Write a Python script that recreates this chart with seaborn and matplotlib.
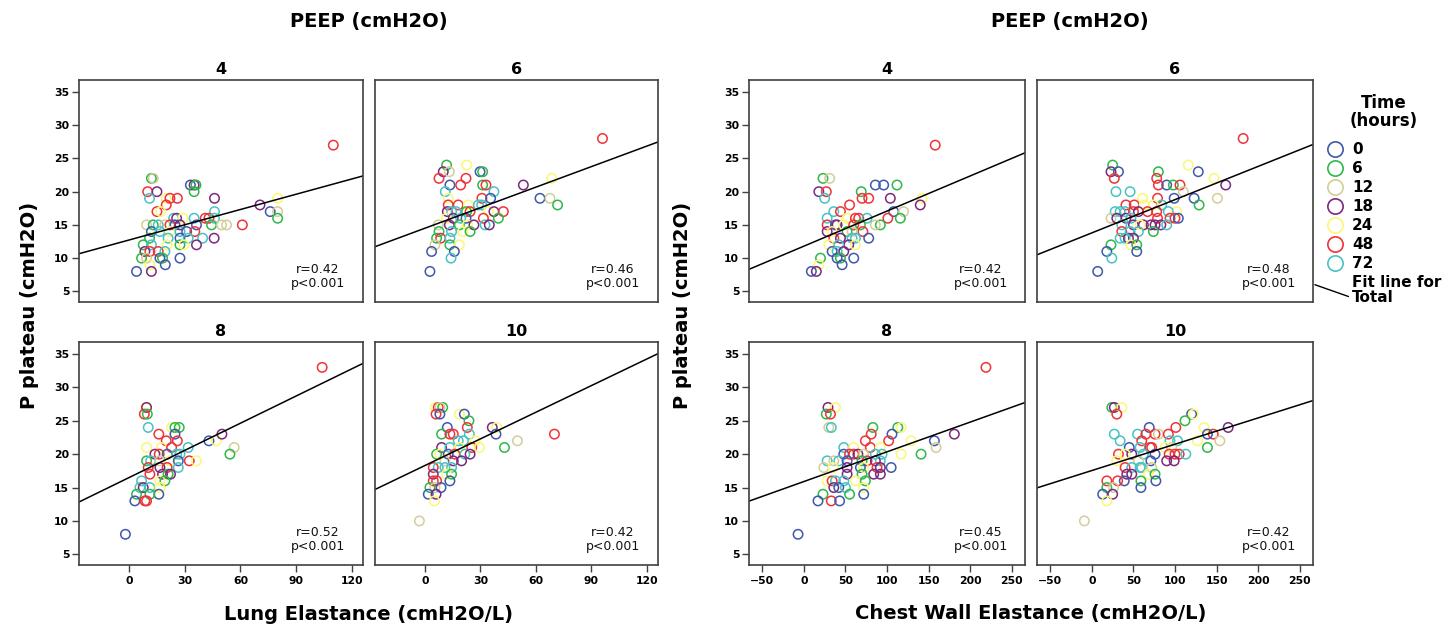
import numpy as np
import pandas as pd
import matplotlib
matplotlib.use("Agg")
import matplotlib.pyplot as plt
import seaborn as sns
from matplotlib.lines import Line2D
from matplotlib.legend_handler import HandlerBase

# ---------------- data ----------------
TIMES = ["0", "6", "12", "18", "24", "48", "72"]
COLORS = ["#3E58AC", "#2EB848", "#D3CE97", "#7C287D", "#FBF873", "#EF3338", "#48C2C5"]
PEEPS = [4, 6, 8, 10]

# (elastance, P plateau, time in hours)
lung_p4 = [
    (110, 27, 48), (12, 22, 6), (13, 22, 12), (33, 21, 0), (35, 21, 18), (36, 21, 6), (35, 20, 6),
    (10, 20, 48), (15, 20, 18), (11, 19, 72), (20, 19, 24), (22, 19, 48), (26, 19, 48), (46, 19, 18),
    (20, 18, 48), (15, 17, 48), (17, 17, 24), (70.5, 18, 18), (80, 19, 24), (76, 17, 0), (80, 17, 12),
    (80, 16, 6), (46, 17, 72), (24, 16, 72), (25.6, 16, 18), (29, 16, 24), (35, 16, 72), (41, 16, 48),
    (43, 16, 48), (46, 16, 72), (9.4, 15, 12), (13, 15, 6), (15.7, 15, 72), (19.3, 15, 12), (22, 15, 48),
    (24.7, 15, 0), (27.4, 15, 18), (36.3, 15, 0), (44.4, 15, 6), (49.8, 15, 12), (52.5, 15, 12),
    (61, 15, 48), (12, 14, 0), (16.6, 14, 72), (22, 14, 24), (27.4, 14, 72), (31, 14, 0), (35.4, 14, 48),
    (11, 13, 6), (21, 13, 72), (27.4, 13, 0), (31.8, 13, 72), (39.6, 13, 72), (45.8, 13, 18),
    (7.6, 12, 6), (12, 12, 72), (20.5, 12, 24), (27.4, 12, 6), (29.5, 12, 24), (36.3, 12, 18),
    (8.5, 11, 18), (11.2, 11, 48), (15.7, 11, 48), (19.3, 11, 72), (6.7, 10, 6), (9.4, 10, 12),
    (16.6, 10, 0), (18, 10, 6), (27.4, 10, 0), (11.2, 9, 24), (19.5, 9, 0), (4, 8, 0), (12, 8, 18),
]
lung_p6 = [
    (96, 28, 48), (11.7, 24, 6), (22.6, 24, 24), (9.9, 23, 18), (13.2, 23, 12), (29.8, 23, 0),
    (31.2, 23, 6), (7.6, 22, 48), (22.2, 22, 48), (13.5, 21, 0), (19.3, 21, 48), (31.2, 21, 6),
    (33, 21, 48), (53.2, 21, 18), (68.5, 22, 24), (11, 20, 72), (37.3, 20, 72), (12.6, 19, 24),
    (30.8, 19, 48), (35.5, 19, 0), (62.2, 19, 0), (67.6, 19, 12), (71.7, 18, 6), (12.6, 18, 48),
    (18, 18, 48), (23.5, 18, 24), (28.9, 18, 72), (30.7, 18, 72), (12.1, 17, 18), (14.4, 17, 72),
    (16.8, 17, 72), (22.5, 17, 6), (24.4, 17, 48), (34.3, 17, 24), (37.3, 17, 18), (42.4, 17, 48),
    (11.7, 16, 24), (15.3, 16, 18), (19.3, 16, 72), (22.2, 16, 0), (31.6, 16, 48), (39.7, 16, 6),
    (7.2, 15, 12), (13.2, 15, 18), (18.6, 15, 6), (23, 15, 24), (26.5, 15, 18), (32.5, 15, 72),
    (34.8, 15, 18), (7.6, 14, 6), (14.4, 14, 72), (20.4, 14, 24), (24.4, 14, 6), (6.3, 13, 6),
    (8.5, 13, 48), (13.5, 13, 72), (5.4, 12, 12), (13.5, 12, 6), (18.6, 12, 24), (3.6, 11, 0),
    (15.9, 11, 0), (14.1, 10, 72), (2.7, 8, 0),
]
lung_p8 = [
    (104, 33, 48), (8.9, 27, 24), (9.4, 27, 18), (8.2, 26, 48), (9.8, 26, 6), (10.3, 24, 72),
    (22.9, 24, 24), (24.7, 24, 6), (27, 24, 6), (16, 23, 48), (24.7, 23, 0), (20, 22, 48),
    (26, 22, 48), (43, 22, 0), (47, 22, 24), (50, 23, 18), (56.6, 21, 12), (54.3, 20, 6),
    (9.4, 21, 24), (17.5, 21, 24), (22.9, 21, 48), (31.8, 21, 72), (13.9, 20, 18), (16.2, 20, 48),
    (20.5, 20, 0), (25.6, 20, 72), (27.4, 20, 72), (9.4, 19, 6), (11.6, 19, 72), (16.6, 19, 12),
    (22, 19, 24), (26.5, 19, 0), (32.4, 19, 48), (36.3, 19, 24), (10.3, 18, 48), (16.6, 18, 18),
    (20.5, 18, 48), (26.5, 18, 72), (18, 17, 18), (21, 17, 6), (22.3, 17, 18), (11.2, 17, 48),
    (6.7, 16, 72), (16.6, 16, 24), (19.3, 16, 6), (5.8, 15, 72), (7.6, 15, 18), (11.2, 15, 72),
    (16.6, 15, 24), (4, 14, 6), (16, 14, 0), (11.2, 14, 6), (3.1, 13, 0), (8.5, 13, 48),
    (9.4, 13, 48), (-2, 8, 0),
]
lung_p10 = [
    (-3, 10, 12), (70, 23, 48), (50, 22, 12), (43, 21, 6), (36.4, 24, 18), (38.8, 24, 24),
    (38.4, 23, 0), (5.6, 27, 24), (7.2, 27, 48), (9.6, 27, 6), (8.1, 27, 12), (6, 26, 48),
    (8.1, 26, 0), (18.6, 26, 24), (21.3, 26, 0), (23.8, 25, 6), (12.1, 24, 0), (22.9, 24, 48),
    (9, 23, 6), (13.5, 23, 48), (15.3, 23, 48), (24, 23, 72), (18, 22, 72), (20.8, 22, 72),
    (27.1, 22, 24), (9, 21, 18), (13.5, 21, 72), (18.6, 21, 24), (25.3, 21, 48), (29.4, 21, 24),
    (6.3, 20, 6), (8.1, 20, 24), (12.6, 20, 0), (16.2, 20, 48), (21.6, 20, 72), (24.4, 20, 18),
    (15.3, 19, 18), (19.8, 19, 18), (10.8, 19, 12), (4.5, 18, 48), (7.2, 18, 72), (10.8, 18, 72),
    (14.4, 18, 72), (4.5, 17, 18), (11.7, 17, 24), (14.4, 17, 6), (4.5, 16, 48), (6.3, 16, 48),
    (13.5, 16, 0), (2.7, 15, 6), (5.4, 15, 12), (8.7, 15, 0), (1.8, 14, 0), (6, 14, 18), (5.1, 13, 24),
]
chest_p4 = [
    (158, 27, 48), (23, 22, 6), (31, 22, 12), (18, 20, 18), (27, 20, 48), (25, 19, 72), (86, 21, 0),
    (96, 21, 0), (112, 21, 6), (69, 20, 6), (70, 19, 48), (78, 19, 48), (104, 19, 18), (142, 19, 24),
    (140, 18, 18), (55, 18, 48), (108, 17, 0), (120, 17, 12), (101, 16, 48), (116, 16, 6),
    (92, 15, 6), (86, 15, 12), (36, 17, 72), (44, 17, 48), (28, 16, 72), (52, 16, 24), (62, 16, 48),
    (66, 16, 48), (76, 16, 72), (28, 15, 48), (38, 15, 0), (40, 15, 18), (48, 15, 24), (60, 15, 48),
    (68, 15, 6), (28, 14, 18), (34, 14, 24), (52, 14, 6), (71, 14, 48), (58, 14, 12), (36, 13, 48),
    (44, 13, 18), (58, 13, 72), (62, 13, 72), (78, 13, 0), (30, 12, 24), (54, 12, 18), (62, 12, 24),
    (42, 12, 72), (34, 11, 0), (40, 11, 72), (48, 11, 18), (20, 10, 6), (40, 10, 0), (44, 10, 6),
    (60, 10, 0), (18, 9, 24), (46, 9, 0), (9, 8, 0), (15, 8, 18),
]
chest_p6 = [
    (182, 28, 48), (7, 8, 0), (25, 24, 6), (23, 23, 18), (32, 23, 0), (27, 22, 48), (80, 23, 6),
    (116, 24, 24), (128, 23, 0), (147, 22, 24), (161, 21, 18), (151, 19, 12), (78, 22, 48),
    (80, 21, 48), (90, 21, 0), (98, 21, 6), (106, 21, 48), (110, 20, 12), (99, 19, 0), (123, 19, 0),
    (129, 18, 6), (29, 20, 72), (46, 20, 72), (61, 19, 24), (79, 19, 48), (41, 18, 48), (51, 18, 48),
    (63, 18, 24), (84, 18, 72), (74, 18, 24), (28, 17, 72), (34, 17, 72), (40, 17, 72), (50, 17, 48),
    (56, 17, 18), (67, 17, 48), (78, 17, 48), (102, 17, 24), (92, 17, 72), (23, 16, 12), (30, 16, 18),
    (41, 16, 18), (47, 16, 72), (94, 16, 48), (100, 16, 48), (104, 16, 0), (79, 16, 48), (36, 15, 72),
    (50, 15, 18), (62, 15, 18), (71, 15, 18), (83, 15, 18), (90, 15, 72), (58, 15, 24), (76, 15, 18),
    (74, 14, 6), (36, 14, 48), (56, 14, 72), (46, 14, 72), (34, 13, 72), (44, 13, 18), (50, 13, 18),
    (40, 13, 72), (23, 12, 6), (47, 12, 24), (54, 12, 6), (18, 11, 0), (54, 11, 0), (24, 10, 72),
]
chest_p8 = [
    (219, 33, 48), (-7, 8, 0), (29, 27, 18), (38, 27, 24), (27, 26, 6), (32, 26, 48), (30, 24, 12),
    (33, 24, 72), (83, 24, 6), (113, 24, 6), (117, 24, 24), (106, 23, 0), (81, 23, 48), (74, 22, 48),
    (102, 22, 48), (129, 22, 24), (157, 22, 0), (181, 23, 18), (159, 21, 12), (141, 20, 6),
    (117, 20, 24), (105, 18, 0), (80, 21, 48), (92, 21, 24), (48, 21, 72), (60, 21, 24), (48, 20, 0),
    (55, 20, 48), (60, 20, 48), (65, 20, 18), (86, 20, 72), (94, 20, 72), (72, 20, 12), (28, 19, 72),
    (36, 19, 12), (42, 19, 72), (52, 19, 0), (76, 19, 48), (86, 19, 18), (92, 19, 72), (70, 19, 6),
    (24, 18, 12), (35, 18, 24), (52, 18, 18), (68, 18, 0), (88, 18, 48), (92, 18, 18), (72, 18, 24),
    (52, 17, 18), (70, 17, 6), (84, 17, 18), (92, 17, 18), (28, 16, 24), (34, 16, 48), (38, 16, 72),
    (48, 16, 72), (62, 16, 24), (74, 16, 6), (36, 15, 18), (42, 15, 0), (50, 15, 72), (72, 15, 24),
    (23, 14, 6), (55, 14, 6), (72, 14, 0), (17, 13, 0), (33, 13, 48), (43, 13, 0),
]
chest_p10 = [
    (-9, 10, 12), (24, 27, 6), (27, 27, 18), (36, 27, 24), (30, 26, 48), (120, 26, 0), (122, 26, 24),
    (112, 25, 6), (164, 24, 18), (135, 24, 24), (146, 23, 48), (139, 23, 0), (154, 22, 12),
    (139, 21, 6), (127, 22, 24), (101, 24, 48), (69, 24, 0), (27, 23, 72), (55, 23, 72), (65, 23, 48),
    (76, 23, 48), (80, 23, 12), (92, 23, 48), (34, 22, 72), (60, 22, 48), (94, 22, 72), (103, 22, 72),
    (45, 21, 0), (58, 21, 72), (70, 21, 48), (72, 21, 48), (96, 21, 12), (88, 21, 24), (32, 20, 48),
    (48, 20, 18), (62, 20, 72), (76, 20, 0), (93, 20, 48), (100, 20, 48), (105, 20, 48), (113, 20, 72),
    (40, 20, 24), (30, 19, 24), (71, 19, 0), (90, 19, 18), (99, 19, 18), (56, 19, 12), (40, 18, 48),
    (48, 18, 72), (58, 18, 72), (60, 18, 72), (72, 18, 12), (42, 17, 18), (48, 17, 18), (68, 17, 24),
    (76, 17, 6), (39, 16, 0), (59, 16, 6), (77, 16, 0), (18, 16, 48), (31, 16, 48), (18, 15, 6),
    (26, 15, 12), (59, 15, 0), (13, 14, 0), (25, 14, 18), (18, 13, 24),
]

# fit line for total (intercept, slope) per PEEP, and reported r
lung_fit = [(12.73, 0.0765), (14.5, 0.103), (16.5, 0.1357), (18.3, 0.133)]
chest_fit = [(11.8, 0.0528), (13.8, 0.050), (15.9, 0.0445), (17.55, 0.0394)]
lung_r = ["0.42", "0.46", "0.52", "0.42"]
chest_r = ["0.42", "0.48", "0.45", "0.42"]
lung_xticks = [0, 30, 60, 90, 120]
chest_xticks = [-50, 0, 50, 100, 150, 200, 250]
y_ticks = [5, 10, 15, 20, 25, 30, 35]

# ---------------- plotting ----------------
sns.set_theme(style="white")
plt.rcParams["font.family"] = ["DejaVu Sans"]
plt.rcParams["text.color"] = "black"
plt.rcParams["axes.labelcolor"] = "black"
plt.rcParams["xtick.color"] = "black"
plt.rcParams["ytick.color"] = "black"
plt.rcParams["axes.titlecolor"] = "black"

W, H = 1450, 628
fig = plt.figure(figsize=(14.5, 6.28), dpi=100)
fig.patch.set_facecolor("white")


def rect(x0, y0, x1, y1):
    return [x0 / W, 1 - y1 / H, (x1 - x0) / W, (y1 - y0) / H]


SPINE = "#404040"
rows = [(80, 302), (342, 565)]
groups = [
    dict(data=[lung_p4, lung_p6, lung_p8, lung_p10], fits=lung_fit, r=lung_r,
         cols=[(79, 363), (375, 658)], xlim=(-27, 126), xticks=lung_xticks,
         xlabel="Lung Elastance (cmH2O/L)", title_x=369, xlabel_x=369, ylabel_x=30),
    dict(data=[chest_p4, chest_p6, chest_p8, chest_p10], fits=chest_fit, r=chest_r,
         cols=[(749, 1025), (1037, 1313)], xlim=(-66, 266), xticks=chest_xticks,
         xlabel="Chest Wall Elastance (cmH2O/L)", title_x=1070, xlabel_x=1031, ylabel_x=683),
]

for g in groups:
    for i, peep in enumerate(PEEPS):
        ri, ci = divmod(i, 2)
        x0, x1 = g["cols"][ci]
        y0, y1 = rows[ri]
        ax = fig.add_axes(rect(x0, y0, x1, y1))
        df = pd.DataFrame(g["data"][i], columns=["elast", "pplat", "time"])
        df["time"] = df["time"].astype(int).astype(str)
        sns.scatterplot(data=df, x="elast", y="pplat", hue="time", hue_order=TIMES,
                        palette=COLORS, s=46, linewidth=1.1, legend=False, ax=ax)
        coll = ax.collections[-1]
        fcs = coll.get_facecolors()
        coll.set_edgecolors(fcs)
        coll.set_facecolors("none")

        ax.set_xlim(*g["xlim"])
        ax.set_ylim(3.4, 36.8)
        b, m = g["fits"][i]
        ax.axline((0, b), slope=m, color="black", lw=1.1, zorder=1)

        ax.text(0.84, 0.055, f"r={g['r'][i]}\np<0.001", transform=ax.transAxes,
                ha="center", va="bottom", fontsize=9, linespacing=1.05, color="#111111")
        ax.set_title(str(peep), fontsize=11.5, fontweight="bold", pad=4)
        ax.set_xlabel("")
        ax.set_ylabel("")
        for sp in ax.spines.values():
            sp.set_color(SPINE)
            sp.set_linewidth(1.2)
        ax.set_yticks(y_ticks)
        ax.set_xticks(g["xticks"])
        ax.tick_params(axis="both", which="both", length=0, labelsize=7.8, pad=2,
                       color=SPINE)
        if ci == 0:
            ax.tick_params(axis="y", left=True, length=5, width=1)
            for lab in ax.get_yticklabels():
                lab.set_fontweight("bold")
        else:
            ax.tick_params(axis="y", left=False, labelleft=False)
        if ri == 1:
            ax.tick_params(axis="x", bottom=True, length=5, width=1, pad=3)
            for lab in ax.get_xticklabels():
                lab.set_fontweight("bold")
        else:
            ax.tick_params(axis="x", bottom=False, labelbottom=False)

    fig.text(g["title_x"] / W, 1 - 22 / H, "PEEP (cmH2O)", ha="center", va="center",
             fontsize=14, fontweight="bold")
    fig.text(g["xlabel_x"] / W, 1 - 614 / H, g["xlabel"], ha="center", va="center",
             fontsize=14, fontweight="bold")
    fig.text(g["ylabel_x"] / W, 1 - 305 / H, "P plateau (cmH2O)", ha="center", va="center",
             rotation=90, fontsize=14, fontweight="bold")


# ---------------- legend ----------------
class DiagHandler(HandlerBase):
    def create_artists(self, legend, orig_handle, xdescent, ydescent, width, height,
                       fontsize, trans):
        yc = height / 2 - ydescent
        ln = Line2D([-xdescent - 8, width + 3], [yc + 4.5, yc - 4.0],
                    color="black", lw=1.0, transform=trans)
        return [ln]


handles = [Line2D([], [], marker="o", ls="none", markersize=11, markerfacecolor="none",
                  markeredgecolor=c, markeredgewidth=1.2) for c in COLORS]
fit_handle = Line2D([], [], color="black")
handles.append(fit_handle)
labels = TIMES + ["Fit line for\nTotal"]
leg = fig.legend(handles, labels, loc="upper left", bbox_to_anchor=(1326 / W, 1 - 94 / H),
                 frameon=False, title="Time\n(hours)", borderpad=0, borderaxespad=0,
                 handlelength=1.2, handletextpad=0.5, labelspacing=0.26,
                 prop=dict(size=11, weight="bold"),
                 title_fontproperties=dict(size=12, weight="bold"),
                 handler_map={fit_handle: DiagHandler()})
leg.get_title().set_multialignment("center")
leg.get_title().set_linespacing(1.0)
for t in leg.get_texts():
    t.set_linespacing(1.0)
try:
    leg._legend_box.sep = 9
except Exception:
    pass

fig.savefig("out.png", dpi=100, facecolor="white")
